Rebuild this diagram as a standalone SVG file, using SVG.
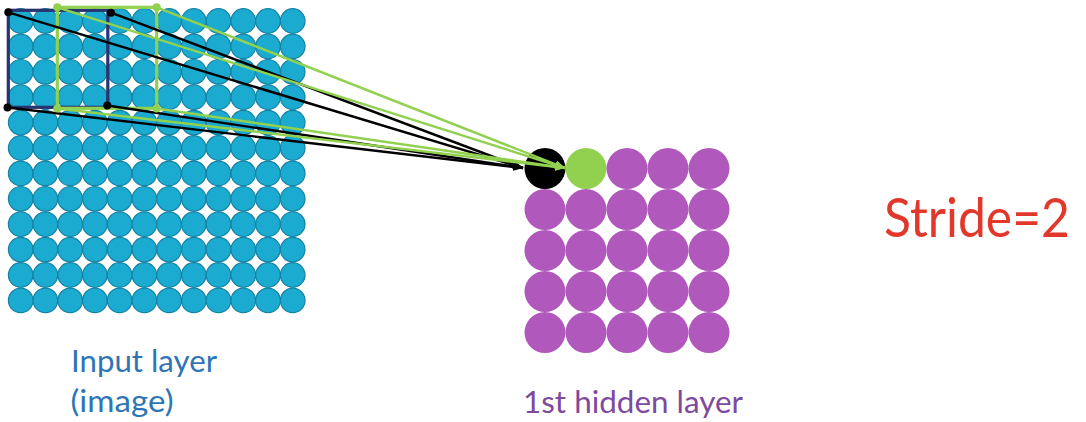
<svg xmlns="http://www.w3.org/2000/svg" xmlns:xlink="http://www.w3.org/1999/xlink" width="1086" height="422" viewBox="0 0 1086 422">
<style>
.in{fill:#1BABD1;stroke:#1682A3;stroke-width:1.2}
.hid{fill:#B158BC}
.lbl{font-family:Lato,"Open Sans","Liberation Sans",sans-serif}
.blk{stroke:#000;stroke-width:2.4;fill:none}
.grn{stroke:#92D050;stroke-width:2.4;fill:none}
</style>
<defs>
<marker id="ab" viewBox="0 0 10 8" refX="10" refY="4" markerWidth="10" markerHeight="8" markerUnits="userSpaceOnUse" orient="auto"><path d="M0,0 L10,4 L0,8 Z" fill="#000"/></marker>
<marker id="ag" viewBox="0 0 10 8" refX="10" refY="4" markerWidth="10" markerHeight="8" markerUnits="userSpaceOnUse" orient="auto"><path d="M0,0 L10,4 L0,8 Z" fill="#92D050"/></marker>
<g id="row">
<circle class="in" cx="20.7" cy="0" r="12.3"/><circle class="in" cx="45.4" cy="0" r="12.3"/><circle class="in" cx="70.2" cy="0" r="12.3"/><circle class="in" cx="94.9" cy="0" r="12.3"/><circle class="in" cx="119.6" cy="0" r="12.3"/><circle class="in" cx="144.4" cy="0" r="12.3"/><circle class="in" cx="169.1" cy="0" r="12.3"/><circle class="in" cx="193.8" cy="0" r="12.3"/><circle class="in" cx="218.5" cy="0" r="12.3"/><circle class="in" cx="243.3" cy="0" r="12.3"/><circle class="in" cx="268" cy="0" r="12.3"/><circle class="in" cx="292.7" cy="0" r="12.3"/>
</g>
</defs>
<rect width="1086" height="422" fill="#fff"/>
<g id="input-layer">
<use xlink:href="#row" href="#row" y="21"/>
<use xlink:href="#row" href="#row" y="46.4"/>
<use xlink:href="#row" href="#row" y="71.8"/>
<use xlink:href="#row" href="#row" y="97.2"/>
<use xlink:href="#row" href="#row" y="122.6"/>
<use xlink:href="#row" href="#row" y="148"/>
<use xlink:href="#row" href="#row" y="173.4"/>
<use xlink:href="#row" href="#row" y="198.8"/>
<use xlink:href="#row" href="#row" y="224.2"/>
<use xlink:href="#row" href="#row" y="249.6"/>
<use xlink:href="#row" href="#row" y="275"/>
<use xlink:href="#row" href="#row" y="300.4"/>
</g>
<g id="kernel-1">
<rect x="8.3" y="10.3" width="99.5" height="97" fill="none" stroke="#28336F" stroke-width="3.2"/>
</g>
<g id="kernel-2">
<rect x="57.3" y="7.3" width="99.4" height="101" fill="none" stroke="#92D050" stroke-width="3.2"/>
</g>
<g id="hidden-layer">
<circle cx="545" cy="168.5" r="20.5" fill="#000"/>
<circle cx="586" cy="168.5" r="20.5" fill="#92D050"/>
<circle class="hid" cx="627" cy="168.5" r="20.5"/><circle class="hid" cx="668" cy="168.5" r="20.5"/><circle class="hid" cx="709" cy="168.5" r="20.5"/>
<circle class="hid" cx="545" cy="209.5" r="20.5"/><circle class="hid" cx="586" cy="209.5" r="20.5"/><circle class="hid" cx="627" cy="209.5" r="20.5"/><circle class="hid" cx="668" cy="209.5" r="20.5"/><circle class="hid" cx="709" cy="209.5" r="20.5"/>
<circle class="hid" cx="545" cy="250.5" r="20.5"/><circle class="hid" cx="586" cy="250.5" r="20.5"/><circle class="hid" cx="627" cy="250.5" r="20.5"/><circle class="hid" cx="668" cy="250.5" r="20.5"/><circle class="hid" cx="709" cy="250.5" r="20.5"/>
<circle class="hid" cx="545" cy="291.5" r="20.5"/><circle class="hid" cx="586" cy="291.5" r="20.5"/><circle class="hid" cx="627" cy="291.5" r="20.5"/><circle class="hid" cx="668" cy="291.5" r="20.5"/><circle class="hid" cx="709" cy="291.5" r="20.5"/>
<circle class="hid" cx="545" cy="332.5" r="20.5"/><circle class="hid" cx="586" cy="332.5" r="20.5"/><circle class="hid" cx="627" cy="332.5" r="20.5"/><circle class="hid" cx="668" cy="332.5" r="20.5"/><circle class="hid" cx="709" cy="332.5" r="20.5"/>
</g>
<g id="connectors">
<line class="blk" x1="8.3" y1="12.3" x2="523" y2="168" marker-end="url(#ab)"/>
<line class="blk" x1="111" y1="12.7" x2="523" y2="168" marker-end="url(#ab)"/>
<line class="blk" x1="7.5" y1="107.5" x2="523" y2="168" marker-end="url(#ab)"/>
<line class="blk" x1="107.3" y1="105.5" x2="523" y2="168" marker-end="url(#ab)"/>
<line class="grn" x1="57.3" y1="7.3" x2="565" y2="168" marker-end="url(#ag)"/>
<line class="grn" x1="156.7" y1="7.3" x2="565" y2="168" marker-end="url(#ag)"/>
<line class="grn" x1="57.3" y1="108.5" x2="565" y2="168" marker-end="url(#ag)"/>
<line class="grn" x1="156.7" y1="108.5" x2="565" y2="168" marker-end="url(#ag)"/>
<circle cx="8.3" cy="12.3" r="4" fill="#000"/>
<circle cx="111" cy="12.7" r="4" fill="#000"/>
<circle cx="7.5" cy="107.5" r="4" fill="#000"/>
<circle cx="107.3" cy="105.5" r="4" fill="#000"/>
<circle cx="57.3" cy="7.3" r="4" fill="#92D050"/>
<circle cx="156.7" cy="7.3" r="4" fill="#92D050"/>
<circle cx="57.3" cy="108.5" r="4" fill="#92D050"/>
<circle cx="156.7" cy="108.5" r="4" fill="#92D050"/>
</g>
<g id="labels">
<text class="lbl" x="71" y="372" font-size="30" fill="#2E75B6" textLength="146" lengthAdjust="spacingAndGlyphs">Input layer</text>
<text class="lbl" x="70.5" y="411.5" font-size="30" fill="#2E75B6" textLength="103" lengthAdjust="spacingAndGlyphs">(image)</text>
<text class="lbl" x="523" y="413" font-size="30" fill="#7E4A9E" textLength="220" lengthAdjust="spacingAndGlyphs">1st hidden layer</text>
<text class="lbl" x="884" y="237" font-size="54" fill="#E2382B" textLength="186" lengthAdjust="spacingAndGlyphs">Stride=2</text>
</g>
</svg>
